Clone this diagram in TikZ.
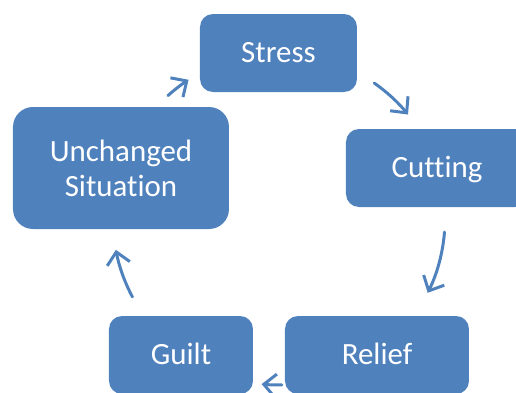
\documentclass[tikz,border=0pt]{standalone}
\usepackage{fontspec}
\setmainfont{Carlito}[Ligatures=NoCommon]
\usetikzlibrary{arrows.meta}
\definecolor{boxblue}{HTML}{4F81BD}

\begin{document}
\begin{tikzpicture}[
  stage/.style={fill=boxblue, text=white, rounded corners=0.26cm, inner sep=0pt,
    minimum height=1.56cm, align=center, font=\fontsize{17.6}{19.8}\selectfont},
  oneline/.style={text height=11.3pt, text depth=0pt},
  cyc/.style={draw=boxblue, line width=1.7pt, line cap=round,
    -{Straight Barb[length=0.24cm, width=0.46cm]}}
]
\path[use as bounding box, clip] (0,0) rectangle (10.32,7.84);
% the five boxes
\node[stage, oneline, minimum width=3.14cm] (stress) at (5.57,6.78){Stress};
\node[stage, oneline, minimum width=3.64cm] (cutting) at (8.74,4.48){Cutting};
\node[stage, oneline, minimum width=3.68cm] (relief) at (7.54,0.74){Relief};
\node[stage, oneline, minimum width=2.88cm] (guilt) at (3.62,0.74){Guilt};
\node[stage, minimum width=4.32cm, minimum height=2.44cm, rounded corners=0.4cm] (unchanged) at (2.42,4.48){Unchanged\\Situation};
% arrows round the cycle
\coordinate (o) at (5.58,3.46);
\draw[cyc] ([shift={(55:3.32)}]o) arc[start angle=55, end angle=39, radius=3.32];
\draw[cyc] ([shift={(-4.5:3.32)}]o) arc[start angle=-4.5, end angle=-26.4, radius=3.32];
\draw[cyc] ([shift={(-89:3.32)}]o) arc[start angle=-89, end angle=-96, radius=3.32];
\draw[cyc] ([shift={(208:3.32)}]o) arc[start angle=208, end angle=190.7, radius=3.32];
\draw[cyc] ([shift={(132:3.32)}]o) arc[start angle=132, end angle=123, radius=3.32];
\end{tikzpicture}
\end{document}
